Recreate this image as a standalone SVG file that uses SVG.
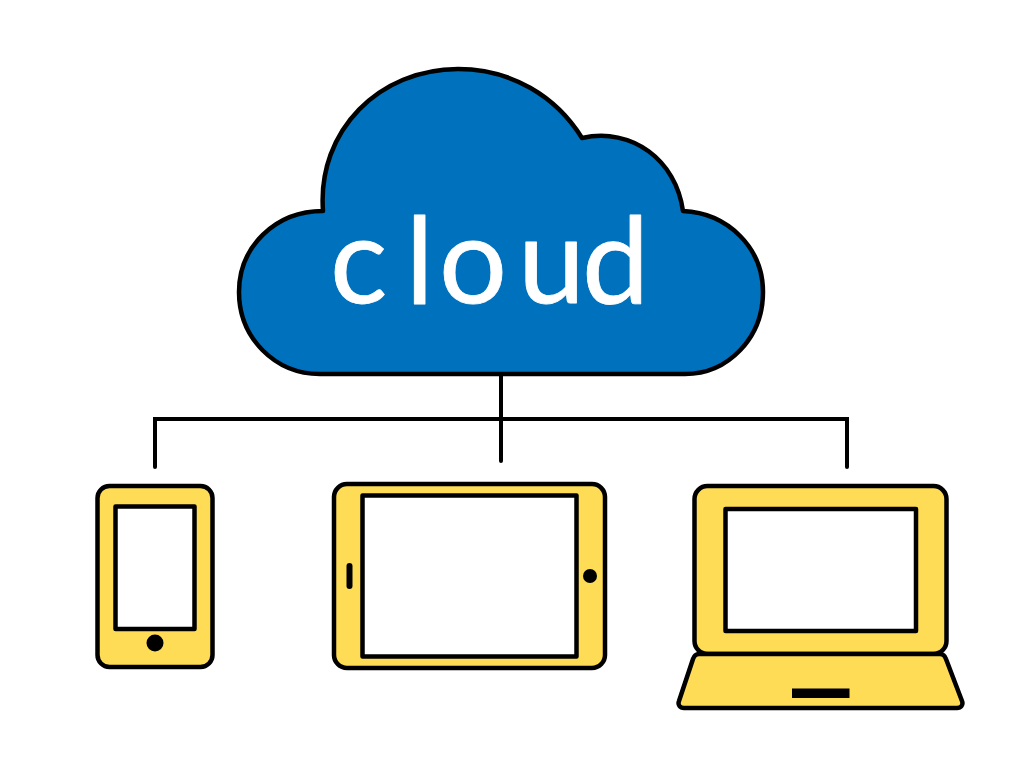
<svg xmlns="http://www.w3.org/2000/svg" width="1024" height="768" viewBox="0 0 1024 768">
<style>
.o{stroke:#000;stroke-width:4.5;stroke-linejoin:round}
.y{fill:#FFDC55}
.w{fill:#fff}
.c{fill:none;stroke:#000;stroke-width:4;stroke-linecap:round;stroke-linejoin:miter}
</style>
<rect width="1024" height="768" fill="#fff"/>
<g id="connectors">
<path class="c" d="M501 374V461M155 467V419H847V467"/>
</g>
<g id="cloud">
<path class="o" fill="#0071BC" d="M320 374C275 374 239 338 239 292C239 247 275 211 323 211C317 130 380 69 458 69C511 69 556 96 582 138C632 127 676 160 683 211C728 213 763 248 763 292C763 338 728 374 685 374Z"/>
<text y="303" font-family="Lato,'Open Sans',sans-serif" font-weight="400" font-size="120" fill="#fff" stroke="#fff" stroke-width="0.800" stroke-linejoin="round" x="330 405.500 439 518 582">cloud</text>
</g>
<g id="phone">
<rect class="o y" x="97.500" y="486" width="115" height="181" rx="12"/>
<rect class="o w" x="115.500" y="506.500" width="79" height="122.500"/>
<circle cx="155" cy="643" r="8.500"/>
</g>
<g id="tablet">
<rect class="o y" x="334" y="484" width="271" height="184" rx="13"/>
<rect class="o w" x="362.500" y="495.500" width="214" height="161"/>
<rect x="346.500" y="563" width="6" height="26" rx="3"/>
<circle cx="590" cy="576" r="7"/>
</g>
<g id="laptop">
<rect class="o y" x="694.500" y="486" width="252" height="168" rx="13"/>
<rect class="o w" x="725.500" y="509" width="190.500" height="122"/>
<path class="o y" d="M699 654H940C943 654 945 656 946 659L962 701C963.500 705 961 708 957 708H684C680 708 677.500 705 679 701L693 659C694 656 696 654 699 654Z"/>
<rect x="792" y="688.500" width="57.500" height="9.500"/>
</g>
</svg>
